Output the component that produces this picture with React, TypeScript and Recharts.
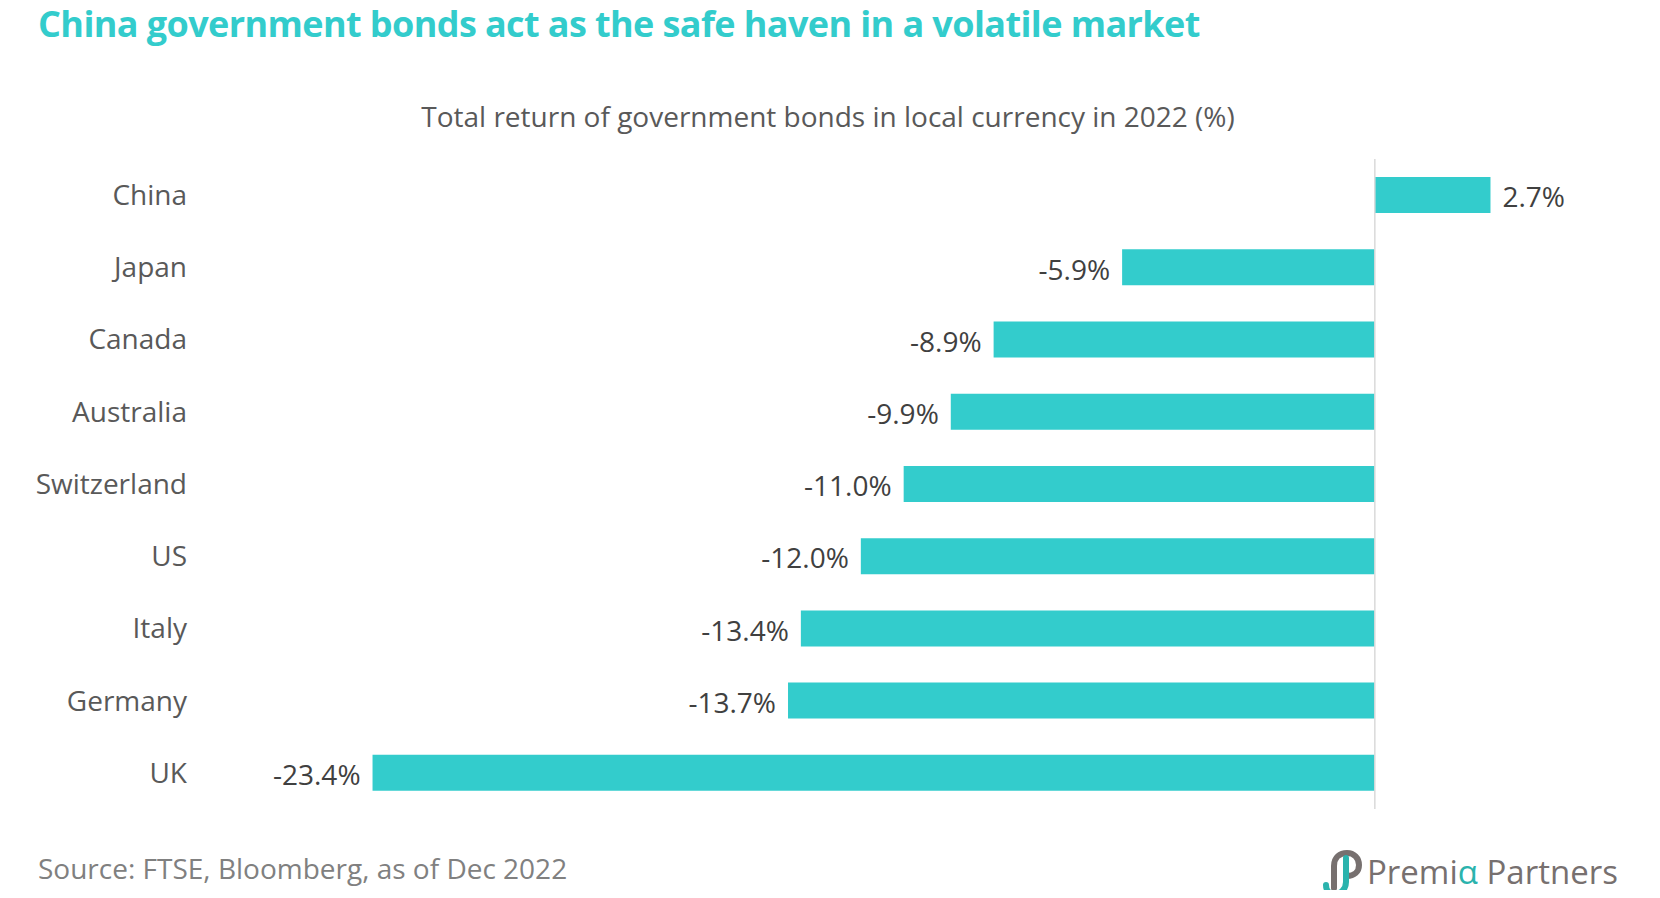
import React from "react";
import { BarChart, Bar, XAxis, YAxis, ReferenceLine, LabelList } from "recharts";

const countries = ["China", "Japan", "Canada", "Australia", "Switzerland", "US", "Italy", "Germany", "UK"];
const returns = [2.7, -5.9, -8.9, -9.9, -11.0, -12.0, -13.4, -13.7, -23.4];
const xDomain = [-25, 5];

const rows = countries.map((country, i) => ({ country, value: returns[i] }));

const TEAL = "#33cccc";
const FONT = "'Open Sans', 'Noto Sans', sans-serif";

const ValueLabel = (props: any) => {
  const { x, y, width, height, value } = props;
  const left = Math.min(x, x + width);
  const right = Math.max(x, x + width);
  const pos = value >= 0;
  return (
    <text
      x={pos ? right + 12 : left - 12}
      y={y + height / 2}
      dy="0.44em"
      textAnchor={pos ? "start" : "end"}
      fill="#404040"
      fontSize={28}
      fontFamily={FONT}
    >
      {value.toFixed(1)}%
    </text>
  );
};

function Logo() {
  return (
    <svg width={320} height={50} style={{ position: "absolute", left: 1320, top: 848 }}>
      {/* grey loop */}
      <path
        d="M14 40 L14 18 C14 9 20 5 27 5 C34 5 39 10 39 17 C39 24 34 28 27 28"
        fill="none"
        stroke="#77706f"
        strokeWidth={6}
        strokeLinecap="round"
      />
      {/* teal hook */}
      <path
        d="M26 10 L26 34 C26 42 20 46 14 46 C9 46 6 42 6 37"
        fill="none"
        stroke="#2bb3ad"
        strokeWidth={6}
        strokeLinecap="round"
      />
      <text x={47} y={36} fontSize={33} fontFamily={FONT} fill="#77706f">
        Premi<tspan fill="#2bb3ad">α</tspan> Partners
      </text>
    </svg>
  );
}

export default function App() {
  return (
    <div style={{ position: "relative", width: 1660, height: 898, margin: -8, background: "#fff", overflow: "hidden", fontFamily: FONT }}>
      <div style={{ position: "absolute", left: 38, top: 0, lineHeight: "48px", fontSize: 36, fontWeight: 700, color: TEAL, letterSpacing: -0.6, whiteSpace: "nowrap" }}>
        China government bonds act as the safe haven in a volatile market
      </div>
      <div style={{ position: "absolute", left: 0, width: 1656, top: 97, textAlign: "center", fontSize: 28, color: "#595959", whiteSpace: "nowrap" }}>
        Total return of government bonds in local currency in 2022 (%)
      </div>
      <div style={{ position: "absolute", left: 38, top: 849, fontSize: 28, color: "#808080", whiteSpace: "nowrap" }}>
        Source: FTSE, Bloomberg, as of Dec 2022
      </div>
      <div style={{ position: "absolute", left: 0, top: 0 }}>
        <BarChart
          width={1660}
          height={898}
          data={rows}
          layout="vertical"
          margin={{ top: 159, right: 71, bottom: 89, left: 0 }}
          barCategoryGap="25%"
        >
          <XAxis type="number" domain={xDomain} hide />
          <YAxis
            type="category"
            dataKey="country"
            width={304}
            tickLine={false}
            axisLine={false}
            tickMargin={111}
            tick={{ fill: "#595959", fontSize: 28, fontFamily: FONT }}
          />
          <Bar dataKey="value" fill={TEAL} isAnimationActive={false}>
            <LabelList dataKey="value" content={ValueLabel} />
          </Bar>
          <ReferenceLine x={0} stroke="#d9d9d9" strokeWidth={1.5} />
        </BarChart>
      </div>
      <Logo />
    </div>
  );
}
